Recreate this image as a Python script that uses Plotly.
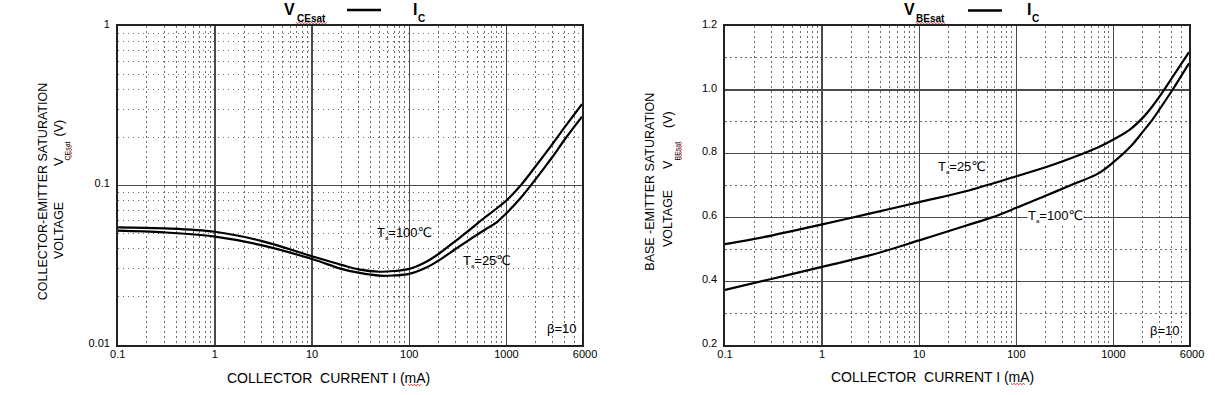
import numpy as np
import plotly.graph_objects as go

W, H = 1215, 395

# ---------------- data ----------------
# Left: VCEsat vs IC (log-log)
ic_ce = [0.1, 0.3, 1, 3, 10, 20, 30, 50, 70, 100, 150, 200, 300, 400, 600, 800, 1000, 1400, 2000, 3000, 4000, 6000]
vce_100 = [0.0547, 0.0539, 0.0513, 0.0450, 0.0360, 0.0318, 0.0298, 0.0288, 0.0291, 0.0300, 0.0333, 0.0372, 0.0450,
           0.0515, 0.0630, 0.0720, 0.0805, 0.100, 0.132, 0.183, 0.233, 0.324]
ic_ce_25 = [0.1, 0.3, 1, 3, 10, 20, 30, 50, 70, 100, 150, 200, 300, 400, 600, 800, 1000, 1400, 1800, 2500, 3000,
            4000, 6000]
vce_25 = [0.0521, 0.0508, 0.0478, 0.0423, 0.0346, 0.0300, 0.0284, 0.0272, 0.0273, 0.0279, 0.0306, 0.0338, 0.0400,
          0.0450, 0.0528, 0.0590, 0.0670, 0.0835, 0.101, 0.131, 0.152, 0.195, 0.270]

# Right: VBEsat vs IC (log-x, linear-y)
ic_be_25 = [0.1, 0.3, 1, 3, 10, 30, 100, 200, 400, 700, 1000, 1500, 2000, 2500, 3000, 4000, 6000]
vbe_25 = [0.516, 0.543, 0.578, 0.611, 0.648, 0.682, 0.729, 0.757, 0.790, 0.820, 0.844, 0.877, 0.912, 0.947, 0.980,
          1.037, 1.118]
ic_be_100 = [0.1, 0.3, 1, 3, 10, 30, 56, 100, 200, 400, 700, 1000, 1500, 2000, 2500, 3000, 4000, 6000]
vbe_100 = [0.373, 0.407, 0.445, 0.480, 0.528, 0.574, 0.600, 0.630, 0.668, 0.706, 0.738, 0.773, 0.822, 0.868, 0.905,
           0.940, 0.997, 1.083]

# tick labels
x_tickvals = [0.1, 1, 10, 100, 1000, 6000]
x_ticktext = ["0.1", "1", "10", "100", "1000", "\u00a0\u00a06000"]
y1_tickvals = [0.01, 0.1, 1]
y1_ticktext = ["0.01", "0.1", "1"]
y2_tickvals = [0.2, 0.4, 0.6, 0.8, 1.0, 1.2]
y2_ticktext = ["0.2", "0.4", "0.6", "0.8", "1.0", "1.2"]

# minor grid positions
x_minor = [m * 10.0 ** d for d in range(-1, 4) for m in range(2, 10) if m * 10.0 ** d < 6000]
y1_minor = [m * 10.0 ** d for d in (-2, -1) for m in range(2, 10)]
y2_minor = [0.3, 0.5, 0.7, 0.9, 1.1]

FONT = "Liberation Sans, Arial, DejaVu Sans, sans-serif"


def px(x):
    return x / W


def py(y):
    return 1 - y / H


fig = go.Figure()

line_style = dict(color="black", width=2.2, shape="spline", smoothing=1.0)
fig.add_trace(go.Scatter(x=ic_ce, y=vce_100, mode="lines", line=line_style,
                         xaxis="x", yaxis="y", showlegend=False, name="Ta=100℃"))
fig.add_trace(go.Scatter(x=ic_ce_25, y=vce_25, mode="lines", line=line_style,
                         xaxis="x", yaxis="y", showlegend=False, name="Ta=25℃"))
fig.add_trace(go.Scatter(x=ic_be_25, y=vbe_25, mode="lines", line=line_style,
                         xaxis="x2", yaxis="y2", showlegend=False, name="Ta=25℃"))
fig.add_trace(go.Scatter(x=ic_be_100, y=vbe_100, mode="lines", line=line_style,
                         xaxis="x2", yaxis="y2", showlegend=False, name="Ta=100℃"))

minor_style = dict(showgrid=True, gridcolor="#6a6a6a", gridwidth=1, griddash="1.5px,3.5px", ticks="")
common = dict(showgrid=True, gridcolor="#4a4a4a", gridwidth=1.4,
              showline=True, mirror=True, linecolor="#222", linewidth=1.6,
              ticks="", zeroline=False, tickfont=dict(family=FONT, size=11, color="black"),
              tickmode="array", automargin=False)

ydom = [py(345), py(26)]
fig.update_layout(
    width=W, height=H, autosize=False,
    margin=dict(l=0, r=0, t=0, b=0, pad=0),
    paper_bgcolor="white", plot_bgcolor="white",
    font=dict(family=FONT, color="black"),
    xaxis=dict(type="log", range=[-1, np.log10(6000)], domain=[px(117.7), px(582)],
               tickvals=x_tickvals, ticktext=x_ticktext, anchor="y", ticklabelstandoff=-2,
               minor=dict(tickvals=x_minor, **minor_style), **common),
    yaxis=dict(type="log", range=[-2, 0], domain=ydom, anchor="x",
               tickvals=y1_tickvals, ticktext=y1_ticktext, ticklabelstandoff=4, ticklabelshift=-2,
               minor=dict(tickvals=y1_minor, **minor_style), **common),
    xaxis2=dict(type="log", range=[-1, np.log10(6000)], domain=[px(725), px(1189)],
                tickvals=x_tickvals, ticktext=x_ticktext, anchor="y2", ticklabelstandoff=-2,
                minor=dict(tickvals=x_minor, **minor_style), **common),
    yaxis2=dict(type="linear", range=[0.2, 1.2], domain=ydom, anchor="x2",
                tickvals=y2_tickvals, ticktext=y2_ticktext, ticklabelstandoff=4, ticklabelshift=-2,
                minor=dict(tickvals=y2_minor, **minor_style), **common),
)

ann = []


def text(x, y, t, size=12, bold=False, angle=0, xanchor="center", yanchor="middle", bg=None):
    d = dict(x=px(x), y=py(y), xref="paper", yref="paper", text=(f"<b>{t}</b>" if bold else t),
             showarrow=False, textangle=angle, xanchor=xanchor, yanchor=yanchor,
             font=dict(family=FONT, size=size, color="black"))
    if bg:
        d["bgcolor"] = bg
        d["borderpad"] = 0
    ann.append(d)


# chart titles
text(289, 9.5, "V", 16, bold=True)
text(311.5, 18.5, "CEsat", 10, bold=True)
text(415, 9.5, "I", 16, bold=True)
text(421.5, 18.5, "C", 10, bold=True)
text(909, 9.5, "V", 16, bold=True)
text(930.5, 18.5, "BEsat", 10, bold=True)
text(1029, 9.5, "I", 16, bold=True)
text(1035.5, 18.5, "C", 10, bold=True)

shapes = [
    dict(type="line", xref="paper", yref="paper", x0=px(347), x1=px(381), y0=py(10), y1=py(10),
         line=dict(color="black", width=2.5)),
    dict(type="line", xref="paper", yref="paper", x0=px(968), x1=px(1002), y0=py(10.5), y1=py(10.5),
         line=dict(color="black", width=2.5)),
]


def squiggle(x0, x1, y, vertical=False):
    """small red wavy underline (spell-check mark seen in the reference)"""
    n = int(abs(x1 - x0) / 1.5)
    pts = []
    for i in range(n + 1):
        a = x0 + (x1 - x0) * i / n
        b = y + (0.9 if i % 2 else -0.9)
        if vertical:
            pts.append((px(b), py(a)))
        else:
            pts.append((px(a), py(b)))
    path = "M " + " L ".join(f"{u:.5f},{v:.5f}" for u, v in pts)
    shapes.append(dict(type="path", xref="paper", yref="paper", path=path,
                       line=dict(color="#e02020", width=0.8)))


squiggle(296, 327, 23)
squiggle(916, 945, 23)
squiggle(408, 421, 385)
squiggle(1011, 1025, 384)
squiggle(145, 158, 71, vertical=True)
squiggle(142, 160, 681, vertical=True)

# y-axis titles (left)
text(42.5, 191.7, "COLLECTOR-EMITTER SATURATION", 12.5, angle=-90)
text(59, 230, "VOLTAGE", 12.5, angle=-90)
text(59, 161, "V", 12.5, angle=-90)
text(66.5, 151, "CEsat", 7, angle=-90)
text(59, 127.5, "(V)", 12.5, angle=-90)
# y-axis titles (right)
text(650, 181.7, "BASE -EMITTER SATURATION", 12.5, angle=-90)
text(668, 219, "VOLTAGE", 12.5, angle=-90)
text(668, 165, "V", 12.5, angle=-90)
text(676.5, 151, "BEsat", 7, angle=-90)
text(668, 120, "(V)", 12.5, angle=-90)

# x-axis titles
text(328, 378, "COLLECTOR&nbsp;&nbsp;CURRENT I (mA)", 14)
text(932, 377, "COLLECTOR&nbsp;&nbsp;CURRENT I (mA)", 14)

# curve labels
sub_a = "<sub><span style='font-size:6px'>a</span></sub>"
text(375, 233, f"T{sub_a}=100℃", 13, xanchor="left")
text(461, 261, f"T{sub_a}=25℃", 13, xanchor="left")
text(545, 328, "β=10", 13, xanchor="left")
text(936, 167, f"T{sub_a}=25℃", 13, xanchor="left")
text(1027, 215.5, f"T{sub_a}=100℃", 13, xanchor="left", bg="white")
text(1148, 330, "β=10", 13, xanchor="left")

fig.update_layout(annotations=ann, shapes=shapes)

fig.write_html(
    "out.html",
    config={"displayModeBar": False, "staticPlot": True},
    post_script="document.documentElement.style.margin='0';document.body.style.margin='0';"
                "document.body.style.overflow='hidden';document.documentElement.style.overflow='hidden';",
)
